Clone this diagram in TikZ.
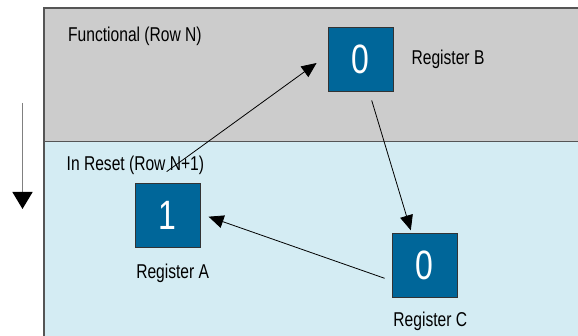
\documentclass[tikz,border=0pt]{standalone}
\usepackage{fontspec}
\setmainfont[FakeStretch=0.78]{Liberation Sans}
\usetikzlibrary{arrows.meta,positioning}

\definecolor{rowgray}{RGB}{204,204,204}
\definecolor{rowblue}{RGB}{212,236,243}
\definecolor{regfill}{RGB}{0,102,153}
\definecolor{edgegray}{RGB}{85,85,85}

\begin{document}
\begin{tikzpicture}[
    x=1pt, y=1pt,
    font=\fontsize{20}{23}\selectfont,
    >={Triangle[length=15pt,width=13pt]},
    regbox/.style={
      draw=black!80,
      line width=0.8pt,
      fill=regfill,
      text=white,
      minimum width=65pt,
      minimum height=64pt,
      inner sep=0pt,
      font=\fontsize{41}{45}\selectfont
    },
    reglabel/.style={inner sep=0pt},
    rowlabel/.style={inner sep=0pt, anchor=west},
    flow/.style={->, line width=0.8pt}
  ]
    \useasboundingbox (0,0) rectangle (578,336);

    % the two rows
    \begin{scope}
      \clip (0,0) rectangle (578,336);
      \fill[rowblue] (44,0) rectangle (590,194.5);
      \fill[rowgray] (44,194.5) rectangle (590,328);
      \draw[edgegray, line width=1.5pt] (590,328) -- (44,328) -- (44,-5);
      \draw[edgegray, line width=1.5pt] (44,194.5) -- (590,194.5);
    \end{scope}

    \node[rowlabel] (functional) at (68,299.5) {Functional (Row N)};
    \node[rowlabel] (inreset) at (66.5,171) {In Reset (Row N+1)};

    % registers
    \node[regbox] (regB) at (360.5,277) {0};
    \node[regbox] (regA) at (167.7,120.5) {1};
    \node[regbox] (regC) at (424.8,70.3) {0};

    \node[reglabel, right=18pt of regB] (labelB) {Register B};
    \node[reglabel, below=16pt of regA, xshift=5pt] (labelA) {Register A};
    \node[reglabel, below=14pt of regC, xshift=5.5pt] (labelC) {Register C};

    % order of the shift
    \coordinate (downtop) at (22.5,233);
    \coordinate (downend) at (22.5,127);
    \draw[draw=gray, line width=1.5pt, -{Triangle[length=17pt,width=20pt,color=black]}]
      (downtop) -- (downend);

    \draw[flow] ([shift={(-1,11.5)}]regA.north) -- ([shift={(-11,-4)}]regB.west);
    \draw[flow] ([shift={(11.2,-9)}]regB.south) -- ([shift={(-14,3)}]regC.north);
    \draw[flow] ([shift={(-7.3,-12.6)}]regC.west) -- ([shift={(8,-1.2)}]regA.east);
  \end{tikzpicture}
\end{document}
